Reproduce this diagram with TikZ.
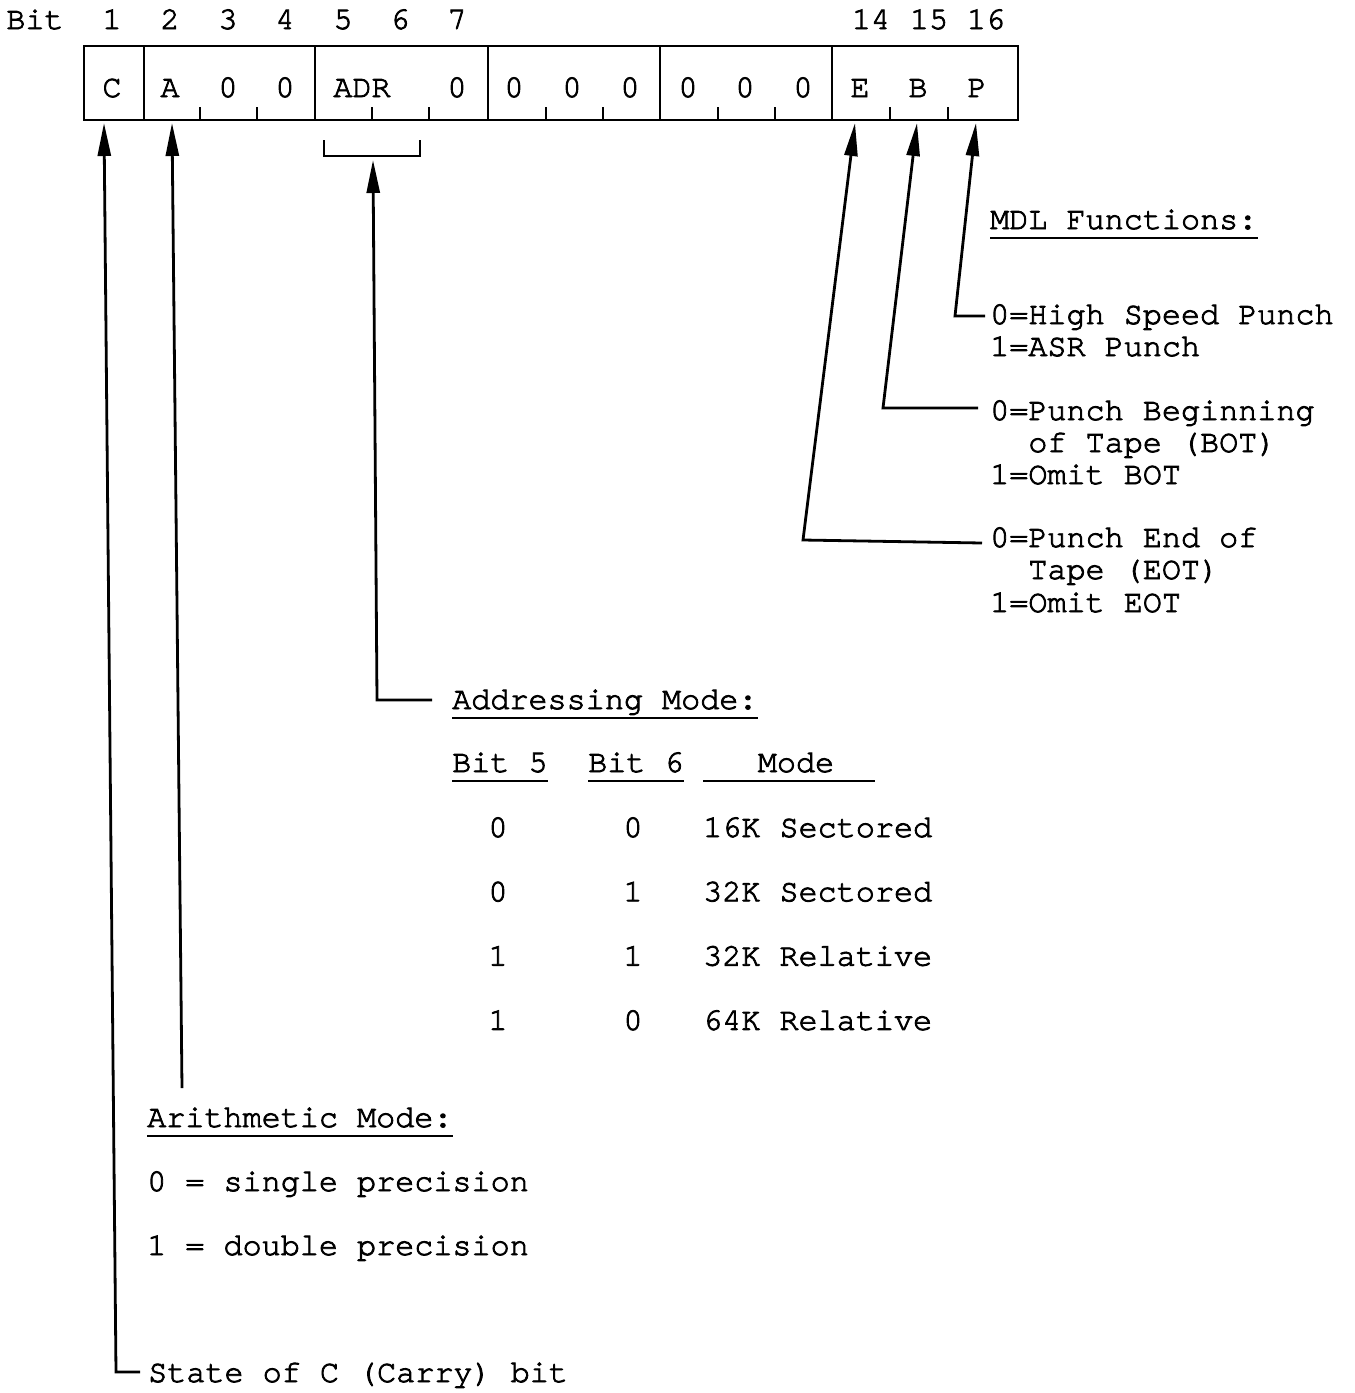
\documentclass[tikz,border=0pt]{standalone}
\usepackage{fontspec}
\setmonofont{texgyrecursor-regular.otf}[FakeBold=2.6]
\usetikzlibrary{arrows.meta}
\tikzstyle{txt}=[anchor=base west,inner sep=0pt,font=\ttfamily\fontsize{31.8}{32}\selectfont]
\tikzstyle{num}=[anchor=base,inner sep=0pt,font=\ttfamily\fontsize{31.8}{32}\selectfont]
\tikzstyle{rule}=[line width=2.6pt]
\tikzstyle{pointer}=[line width=2.8pt,-{Triangle[length=33pt,width=13pt]}]

\begin{document}
\begin{tikzpicture}[x=1pt,y=-1pt]
\useasboundingbox (0,0) rectangle (1355,1393);
% register word
\draw[rule](84,46) rectangle (1018,120);
\foreach \x in {144,315,488,660,832} \draw[rule](\x,46)--(\x,120);
\foreach \x in {200,257,372,429,546,603,718,775,890,948} \draw[rule](\x,107)--(\x,120);
\node(bit)[num] at (35,29){Bit};
\foreach \n/\x in {1/112,2/170,3/228,4/285,5/343,6/400,7/457,14/871,15/929,16/986}
  \node(head\n)[num] at (\x,29){\n};
\foreach \n/\t/\x in {1/C/112,2/A/170,3/0/228,4/0/285,5/ADR/362,7/0/457,8/0/514,9/0/572,10/0/630,11/0/688,12/0/745,13/0/803,14/E/860,15/B/918,16/P/977}
  \node(cell\n)[num] at (\x,97){\t};
\draw[rule](324,140)--(324,156)--(420,156)--(420,140);
% MDL functions
\node(mdl)[txt] at (990,229){MDL Functions:};
\draw[rule]([yshift=-9pt]mdl.base west)--([yshift=-9pt]mdl.base east);
\node(punchP)[txt] at (990,324){0=High Speed Punch};
\node(punchPb)[txt] at (990,356){1=ASR Punch};
\node(punchB)[txt] at (990,420){0=Punch Beginning};
\node(punchBb)[txt] at (990,452){\ \ of Tape (BOT)};
\node(punchBc)[txt] at (990,484){1=Omit BOT};
\node(punchE)[txt] at (990,547){0=Punch End of};
\node(punchEb)[txt] at (990,579){\ \ Tape (EOT)};
\node(punchEc)[txt] at (990,612){1=Omit EOT};
\coordinate(tipP) at (976,123);
\coordinate(tipB) at (917,123);
\coordinate(tipE) at (855,123);
\coordinate(bendP) at (955,316);
\coordinate(bendB) at (883,408);
\coordinate(bendE) at (803,540);
\draw[pointer]([xshift=-5pt]punchP.west|-bendP)--(bendP)--(tipP);
\draw[pointer]([xshift=-12pt]punchB.west|-bendB)--(bendB)--(tipB);
\draw[pointer]([xshift=-8pt,yshift=-3pt]punchE.west|-bendE)--(bendE)--(tipE);
% addressing mode
\node(adr)[txt] at (452,709){Addressing Mode:};
\draw[rule]([yshift=-9pt]adr.base west)--([yshift=-9pt]adr.base east);
\coordinate(tipA) at (373,160);
\coordinate(bendA) at (377,700);
\draw[pointer]([xshift=-20pt]adr.west|-bendA)--(bendA)--(tipA);
\node(colone)[txt] at (452,772){Bit 5};
\node(coltwo)[txt] at (588,772){Bit 6};
\node(colmode)[num] at (796,772){Mode};
\draw[rule]([yshift=-9pt]colone.base west)--([yshift=-9pt]colone.base east);
\draw[rule]([yshift=-9pt]coltwo.base west)--([yshift=-9pt]coltwo.base east);
\draw[rule](703,781)--(875,781);
\foreach \r/\a/\b/\m in {0/0/0/16K Sectored,1/0/1/32K Sectored,2/1/1/32K Relative,3/1/0/64K Relative}{
  \node(rowa\r)[num] at (498,{837+64.3*\r}){\a};
  \node(rowb\r)[num] at (633,{837+64.3*\r}){\b};
  \node(rowm\r)[txt] at (703,{837+64.3*\r}){\m};
}
% arithmetic mode
\node(arith)[txt] at (147,1127){Arithmetic Mode:};
\draw[rule]([yshift=-9pt]arith.base west)--([yshift=-9pt]arith.base east);
\node(single)[txt] at (147,1191){0 = single precision};
\node(double)[txt] at (147,1255){1 = double precision};
\coordinate(tipAr) at (172,123);
\coordinate(endAr) at (182,1088);
\draw[pointer](endAr)--(tipAr);
% carry
\node(carry)[txt] at (148,1382){State of C (Carry) bit};
\coordinate(tipC) at (104,123);
\coordinate(bendC) at (116,1372);
\draw[pointer]([xshift=-8pt]carry.west|-bendC)--(bendC)--(tipC);
\end{tikzpicture}
\end{document}
